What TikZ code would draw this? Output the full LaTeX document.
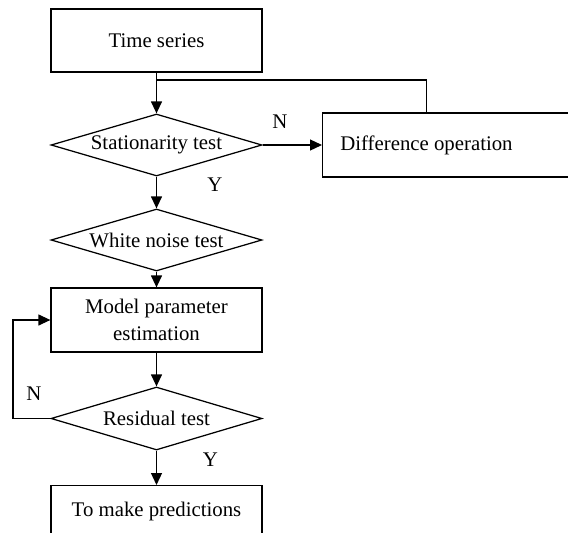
\documentclass[tikz,border=0pt]{standalone}
\usepackage{fontspec}
\setmainfont{Liberation Serif}
\usetikzlibrary{shapes.geometric,arrows.meta}
\begin{document}
\begin{tikzpicture}[x=1pt,y=1pt,
  font=\fontsize{20.8}{27}\selectfont,
  line width=1.25pt,
  boxnode/.style={draw, rectangle, inner sep=0pt, minimum width=211pt, align=center},
  decnode/.style={draw, diamond, aspect=3.4, inner sep=0pt, minimum width=211pt, minimum height=62pt},
  lbl/.style={inner sep=0pt},
  arr/.style={-{Triangle[length=12pt,width=11pt]}}]
\useasboundingbox (0,0) rectangle (568,-533);
\clip (0,0) rectangle (568,-533);
\node[boxnode, minimum height=63pt] (ts) at (156.5,-40.5) {Time series};
\node[decnode] (st) at (156.5,-145) {Stationarity test};
\node[draw, rectangle, inner sep=0pt, minimum width=250pt, minimum height=64pt, anchor=west] (diff) at (322,-145) {};
\node[lbl] (difft) at (426.5,-145) {Difference operation};
\node[decnode] (wn) at (156.5,-240) {White noise test};
\node[boxnode, minimum height=64pt] (mpe) at (156.5,-320) {Model parameter\\estimation};
\node[decnode, minimum height=63pt] (rt) at (156.5,-418.5) {Residual test};
\node[boxnode, minimum height=52pt, anchor=north] (pred) at (156.5,-485) {To make predictions};
\coordinate (j) at (156.5,-80);
\coordinate (fb) at (13,-418.5);
\node[lbl] (n1) at (280,-122) {N};
\node[lbl] (y1) at (215,-185) {Y};
\node[lbl] (n2) at (34,-394) {N};
\node[lbl] (y2) at (210.5,-460) {Y};
\draw[arr] (ts.south) -- (st.north);
\draw (difft.center |- diff.north) -- (difft.center |- j) -- (j);
\draw[arr] (st.east) -- (diff.west);
\draw[arr] (st.south) -- (wn.north);
\draw[arr] (wn.south) -- (mpe.north);
\draw[arr] (mpe.south) -- (rt.north);
\draw[arr] (rt.west) -- (fb) -- (fb |- mpe.west) -- (mpe.west);
\draw[arr] (rt.south) -- (pred.north);
\end{tikzpicture}
\end{document}
